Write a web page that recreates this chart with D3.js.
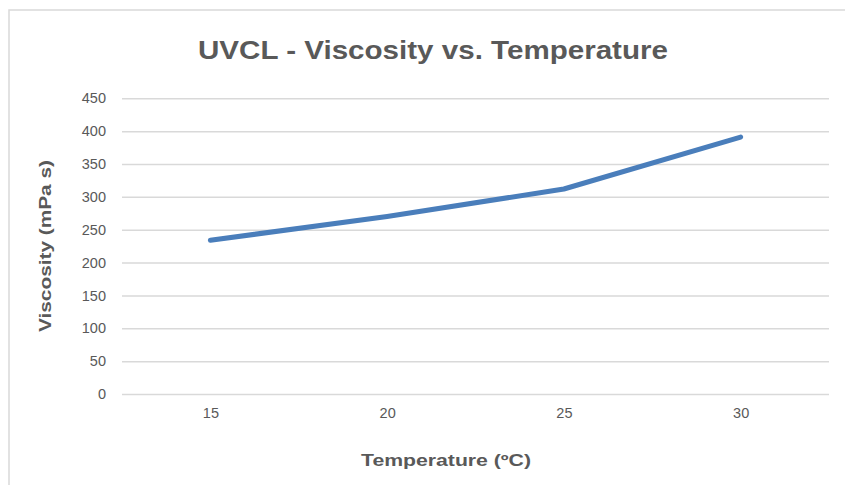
<!DOCTYPE html>
<html>
<head>
<meta charset="utf-8">
<script src="https://cdn.jsdelivr.net/npm/d3@7"></script>
<style>
  html, body { margin: 0; padding: 0; background: #fff; }
  svg { display: block; font-family: "Liberation Sans", Arial, sans-serif; }
</style>
</head>
<body>
<svg id="chart" width="845" height="485"></svg>
<script>
const categories = ["15", "20", "25", "30"];
const viscosity = [234, 270, 312, 391];
const yTicks = [0, 50, 100, 150, 200, 250, 300, 350, 400, 450];
const titleText = "UVCL - Viscosity vs. Temperature";
const xTitle = "Temperature (ºC)";
const yTitle = "Viscosity (mPa s)";

const svg = d3.select("#chart");
const plot = { left: 122, right: 829, top: 98.3, bottom: 394 };

// chart border
svg.append("rect")
  .attr("x", 9).attr("y", 10)
  .attr("width", 845).attr("height", 485)
  .attr("fill", "#fff")
  .attr("stroke", "#d9d9d9").attr("stroke-width", 1.5);

const x = d3.scalePoint().domain(categories).range([plot.left, plot.right]).padding(0.5);
const y = d3.scaleLinear().domain([0, 450]).range([plot.bottom, plot.top]);

// gridlines + y labels
const yAxis = d3.axisLeft(y).tickValues(yTicks).tickSize(-(plot.right - plot.left)).tickPadding(16);
const gy = svg.append("g").attr("transform", `translate(${plot.left},0)`).call(yAxis);
gy.select(".domain").remove();
gy.selectAll(".tick line").attr("stroke", "#d9d9d9").attr("stroke-width", 1.5);
gy.selectAll(".tick text").attr("fill", "#595959").attr("font-size", 14.5).attr("font-family", "Liberation Sans, Arial, sans-serif");

// x labels
const xAxis = d3.axisBottom(x).tickSize(0).tickPadding(14);
const gx = svg.append("g").attr("transform", `translate(0,${plot.bottom})`).call(xAxis);
gx.select(".domain").remove();
gx.selectAll(".tick text").attr("fill", "#595959").attr("font-size", 14.5).attr("font-family", "Liberation Sans, Arial, sans-serif");

// line
const line = d3.line().x((d, i) => x(categories[i])).y(d => y(d));
svg.append("path")
  .datum(viscosity)
  .attr("d", line)
  .attr("fill", "none")
  .attr("stroke", "#4a7ebb")
  .attr("stroke-width", 5)
  .attr("stroke-linecap", "round")
  .attr("stroke-linejoin", "round");

// title
svg.append("text")
  .attr("x", 433).attr("y", 59)
  .attr("text-anchor", "middle")
  .attr("fill", "#595959")
  .attr("font-size", 25)
  .attr("font-weight", "bold")
  .attr("textLength", 470)
  .attr("lengthAdjust", "spacingAndGlyphs")
  .text(titleText);

// x title
svg.append("text")
  .attr("x", 446).attr("y", 466)
  .attr("text-anchor", "middle")
  .attr("fill", "#595959")
  .attr("font-size", 16)
  .attr("font-weight", "bold")
  .attr("textLength", 170)
  .attr("lengthAdjust", "spacingAndGlyphs")
  .text(xTitle);

// y title
svg.append("text")
  .attr("transform", "translate(51,246) rotate(-90)")
  .attr("text-anchor", "middle")
  .attr("fill", "#595959")
  .attr("font-size", 16)
  .attr("font-weight", "bold")
  .attr("textLength", 172)
  .attr("lengthAdjust", "spacingAndGlyphs")
  .text(yTitle);
</script>
</body>
</html>
